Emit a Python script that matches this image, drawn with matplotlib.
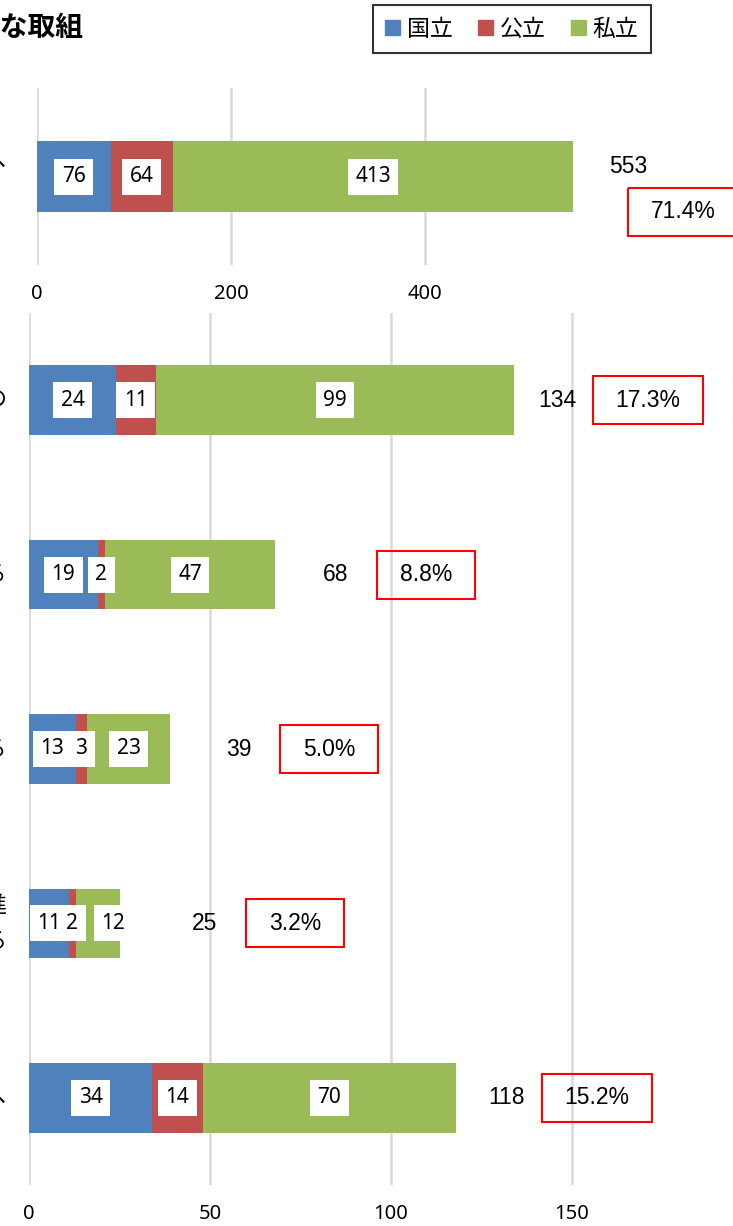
import matplotlib.pyplot as plt
from matplotlib.patches import Patch, Rectangle

plt.rcParams['font.family'] = ['Noto Sans CJK JP', 'DejaVu Sans']

seriesNames = ['国立', '公立', '私立']
seriesColors = ['#4f81bd', '#c0504d', '#9bbb59']

# upper panel (one row)
topLabel = ['教育・研究等の質の向上へ']
topNational = [76]
topPublic = [64]
topPrivate = [413]
topTotal = [553]
topShare = ['71.4%']
topTicks = [0, 200, 400]

# lower panel (five rows, top to bottom)
lowLabels = ['組織運営の改善の', '教育内容を充実させる', '研究活動を活性化する',
             '地域連携・国際交流の推進\nに取り組んでいる', '学生支援の充実へ']
lowNational = [24, 19, 13, 11, 34]
lowPublic = [11, 2, 3, 2, 14]
lowPrivate = [99, 47, 23, 12, 70]
lowTotal = [134, 68, 39, 25, 118]
lowShare = ['17.3%', '8.8%', '5.0%', '3.2%', '15.2%']
lowTicks = [0, 50, 100, 150]

# where the hand-placed total / share labels sit (data units)
topTotalPos = [(609, -0.054)]
topSharePos = [(666, 0.2)]
lowTotalX = [145.9, 84.8, 58.0, 48.6, 132.0]
lowShareX = [171.0, 109.7, 82.9, 73.5, 156.9]
segNudge = {(3, 2): 4.2}

W, H = 733, 1226
fig = plt.figure(figsize=(W / 100, H / 100), dpi=100)


def styleAxis(ax, ticks):
    for s in ax.spines.values():
        s.set_visible(False)
    ax.set_xticks(ticks)
    ax.set_yticks([])
    ax.tick_params(axis='x', length=0, pad=14, labelsize=14.5)
    for t in ax.get_xticklabels():
        t.set_fontfamily(['Noto Sans', 'DejaVu Sans'])
    ax.grid(axis='x', color='#d9d9d9', linewidth=1.8)
    ax.set_axisbelow(True)


def drawStack(ax, labels, national, public, private, leftPx, nudge=None, labelDy=0.0):
    y = list(range(len(labels)))
    left = [0] * len(labels)
    for si, vals in enumerate([national, public, private]):
        ax.barh(y, vals, left=left, height=0.4, color=seriesColors[si], zorder=2)
        for i, v in enumerate(vals):
            cx = left[i] + v / 2
            if nudge and (i, si) in nudge:
                cx += nudge[(i, si)]
            ax.text(cx, i, str(v), ha='center', va='center', fontsize=15,
                    family=['Noto Sans', 'DejaVu Sans'], zorder=4,
                    bbox=dict(boxstyle='square,pad=0.36', fc='white', ec='none'))
        left = [l + v for l, v in zip(left, vals)]
    # category names sit left of the cropped picture edge, only their tails show
    for i, lab in enumerate(labels):
        ax.annotate(lab, xy=(0, i + labelDy), xycoords=('axes fraction', 'data'),
                    xytext=(7 - leftPx, 0), textcoords='offset pixels',
                    ha='right', va='center', fontsize=16, linespacing=1.7,
                    annotation_clip=False)


def drawShareBox(ax, x, y, text, wData, hData):
    ax.add_patch(Rectangle((x - wData / 2, y - hData / 2), wData, hData, fill=False,
                           ec='#ff0000', lw=1.5, clip_on=False, zorder=5))
    ax.text(x, y, text, ha='center', va='center', fontsize=16.5,
            family=['Liberation Sans', 'DejaVu Sans'], clip_on=False)


# upper axis: 0 at px 37, 0.97 px per unit
axTop = fig.add_axes([37 / W, (H - 265) / H, 590 * 0.97 / W, 177 / H])
drawStack(axTop, topLabel, topNational, topPublic, topPrivate, 37, labelDy=-0.08)
axTop.set_xlim(0, 590)
axTop.set_ylim(0.5, -0.5)
styleAxis(axTop, topTicks)
for (tx, ty), tot in zip(topTotalPos, topTotal):
    axTop.text(tx, ty, str(tot), ha='center', va='center', fontsize=16.5,
               family=['Liberation Sans', 'DejaVu Sans'], clip_on=False)
for (bx, by), sh in zip(topSharePos, topShare):
    drawShareBox(axTop, bx, by, sh, (50 + 12 * len(sh)) / 0.97, 48 / 177)

# lower axis: 0 at px 29, 3.62 px per unit
axLow = fig.add_axes([29 / W, (H - 1185) / H, 200 * 3.62 / W, 872 / H])
drawStack(axLow, lowLabels, lowNational, lowPublic, lowPrivate, 29, segNudge)
axLow.set_xlim(0, 200)
axLow.set_ylim(4.5, -0.5)
styleAxis(axLow, lowTicks)
for i, tot in enumerate(lowTotal):
    axLow.text(lowTotalX[i], i, str(tot), ha='center', va='center', fontsize=16.5,
               family=['Liberation Sans', 'DejaVu Sans'], clip_on=False)
    drawShareBox(axLow, lowShareX[i], i, lowShare[i],
                 (50 + 12 * len(lowShare[i])) / 3.62, 48 / 174.4)

# title, mostly cut off at the left edge
fig.text(83 / W, 1 - 28 / H, '主な取組', ha='right', va='center', fontsize=20,
         fontweight='bold')

handles = [Patch(color=c, label=n) for c, n in zip(seriesColors, seriesNames)]
leg = fig.legend(handles=handles, ncol=3, loc='upper right',
                 bbox_to_anchor=(651 / W, 1 - 5 / H), fontsize=16.5, frameon=True,
                 fancybox=False, handlelength=0.65, handleheight=0.65,
                 handletextpad=0.3, columnspacing=1.1, borderpad=0.55,
                 borderaxespad=0)
leg.get_frame().set_edgecolor('black')
leg.get_frame().set_linewidth(1.5)

fig.savefig('out.png', dpi=100)
